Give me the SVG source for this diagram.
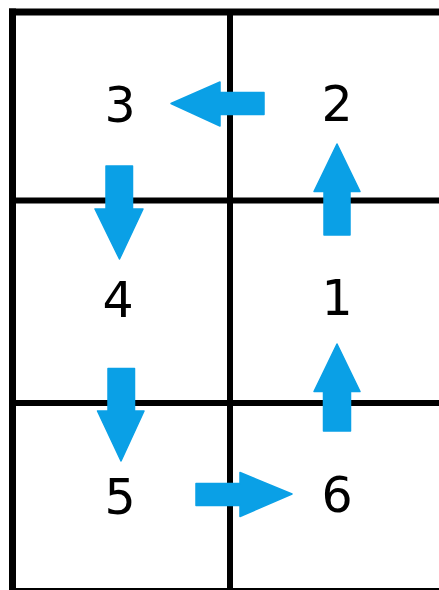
<svg xmlns="http://www.w3.org/2000/svg" width="439" height="590" viewBox="0 0 439 590">
  <style>
    .grid { stroke: #000; fill: none; }
    .outer { stroke-width: 7; }
    .inner { stroke-width: 6; }
    .lbl { font-family: "DejaVu Sans", "Liberation Sans", sans-serif; font-size: 49px; fill: #000; text-anchor: middle; }
    .arrow { fill: #0aa0e6; stroke: #0aa0e6; stroke-width: 1.5; stroke-linejoin: round; }
  </style>
  <rect width="439" height="590" fill="#fff"/>
  <g id="grid">
    <line class="grid outer" x1="12.5" y1="8.5" x2="12.5" y2="595"/>
    <line class="grid outer" x1="9" y1="12" x2="445" y2="12"/>
    <line class="grid outer" x1="9" y1="591.5" x2="445" y2="591.5"/>
    <line class="grid inner" x1="230" y1="12" x2="230" y2="595"/>
    <line class="grid inner" x1="12" y1="200.5" x2="445" y2="200.5"/>
    <line class="grid inner" x1="12" y1="403" x2="445" y2="403"/>
  </g>
  <g id="node-3"><text class="lbl" x="120" y="121.5">3</text></g>
  <g id="node-2"><text class="lbl" x="337" y="120.5">2</text></g>
  <g id="node-4"><text class="lbl" x="118" y="317">4</text></g>
  <g id="node-1"><text class="lbl" x="337" y="315">1</text></g>
  <g id="node-5"><text class="lbl" x="120" y="514">5</text></g>
  <g id="node-6"><text class="lbl" x="337" y="512">6</text></g>
  <g id="connectors">
    <polygon class="arrow" points="171,103.5 220,82 220,92.5 264,92.5 264,114.5 220,114.5 220,126"/>
    <polygon class="arrow" points="337,144 360,191.5 350,191.5 350,235 324,235 324,191.5 314,191.5"/>
    <polygon class="arrow" points="337,344 360,391.5 350.5,391.5 350.5,431 323.5,431 323.5,391.5 314,391.5"/>
    <polygon class="arrow" points="106,166 132.5,166 132.5,209 143,209 119.5,259 95,209 106,209"/>
    <polygon class="arrow" points="108,368.5 134.5,368.5 134.5,411 144,411 121,461 97.5,411 108,411"/>
    <polygon class="arrow" points="196,483.5 240,483.5 240,472.5 292,494 240,516.5 240,505.5 196,505.5"/>
  </g>
</svg>
